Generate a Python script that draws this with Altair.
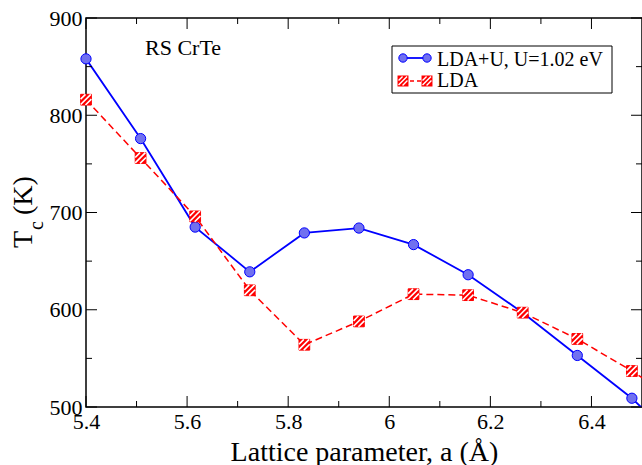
import altair as alt
import pandas as pd

# ---------------- data ----------------
lattice_a = [5.4, 5.508, 5.616, 5.724, 5.832, 5.94, 6.048, 6.156, 6.264, 6.372, 6.48, 6.588]
tc_ldau = [858, 776, 685, 639, 679, 684, 667, 636, 597, 553, 509, 455]
tc_lda = [816, 756, 696, 620, 564, 588, 616, 615, 597, 570, 537, 500]
series_names = ["LDA+U, U=1.02 eV", "LDA"]
x_major = [5.4, 5.6, 5.8, 6.0, 6.2, 6.4]
x_minor = [5.5, 5.7, 5.9, 6.1, 6.3]
y_major = [500, 600, 700, 800, 900]
y_minor = [550, 650, 750, 850]
x_title = "Lattice parameter, a (Å)"
y_title_main = "T"
y_title_sub = "c"
y_title_unit = "(K)"
panel_label = "RS CrTe"

# ---------------- layout / style ----------------
W, H = 556, 389
FONT = "Liberation Serif"
BLUE = "#0000ff"
BLUE_FILL = "#7070f0"
RED = "#ff0000"
HATCH = "M-1,-0.1L-0.1,-1M-1,0.9L0.9,-1M-0.1,1L1,-0.1"

df = pd.DataFrame({"a": lattice_a, "ldau": tc_ldau, "lda": tc_lda})

xs = alt.Scale(domain=[5.4, 6.5], nice=False, zero=False)
ys = alt.Scale(domain=[500, 900], nice=False, zero=False)

axis_common = dict(
    labelFont=FONT, labelFontSize=22, labelColor="black", labelFontWeight="normal",
    titleFont=FONT, titleFontSize=28, titleFontWeight="normal", titleColor="black",
    tickSize=0, domain=False, grid=False, labelPadding=4,
    labelFlush=False, labelOverlap=False, labelBound=False,
)

x_main = alt.X(
    "a:Q", scale=xs,
    axis=alt.Axis(values=x_major, format="~g", title=x_title,
                  titleY=53, titleBaseline="alphabetic", **axis_common),
)
x_noaxis = alt.X("a:Q", scale=xs, axis=None)

base = alt.Chart(df)

blue_line = base.mark_line(color=BLUE, strokeWidth=1.8, clip=True).encode(
    x=x_main,
    y=alt.Y("ldau:Q", scale=ys,
            axis=alt.Axis(values=y_major, title=None, **axis_common)),
)
blue_pts = base.mark_point(shape="circle", filled=True, size=105, fill=BLUE_FILL,
                           stroke=BLUE, strokeWidth=1, opacity=1).encode(
    x=x_noaxis, y=alt.Y("ldau:Q", scale=ys, axis=None))

red_line = base.mark_line(color=RED, strokeWidth=1.5, strokeDash=[7, 4], clip=True).encode(
    x=x_noaxis, y=alt.Y("lda:Q", scale=ys, axis=None))
red_pts = base.mark_point(shape="square", filled=True, size=115, fill=RED,
                          stroke=RED, strokeWidth=1, opacity=1).encode(
    x=x_noaxis, y=alt.Y("lda:Q", scale=ys, axis=None))
red_hatch = base.mark_point(shape=HATCH, filled=False, size=115, stroke="white",
                            strokeWidth=1.6, opacity=1).encode(
    x=x_noaxis, y=alt.Y("lda:Q", scale=ys, axis=None))


def xticks(vals, length, top):
    d = pd.DataFrame({"v": vals})
    y, y2 = (0, length) if top else (H, H - length)
    return alt.Chart(d).mark_rule(color="black", strokeWidth=1).encode(
        x=alt.X("v:Q", scale=xs, axis=None), y=alt.value(y), y2=alt.value(y2))


def yticks(vals, length, right):
    d = pd.DataFrame({"v": vals})
    x, x2 = (W, W - length) if right else (0, length)
    return alt.Chart(d).mark_rule(color="black", strokeWidth=1).encode(
        y=alt.Y("v:Q", scale=ys, axis=None), x=alt.value(x), x2=alt.value(x2))


ticks = [
    xticks(x_major, 11, False), xticks(x_minor, 6, False),
    xticks(x_major, 11, True), xticks(x_minor, 6, True),
    yticks(y_major, 11, False), yticks(y_minor, 6, False),
    yticks(y_major, 11, True), yticks(y_minor, 6, True),
]

one = pd.DataFrame({"k": [0]})


def text(s, x, y, size, angle=0):
    return alt.Chart(one).mark_text(
        text=s, font=FONT, fontSize=size, fontWeight="normal", align="left",
        baseline="alphabetic", angle=angle, color="black").encode(
        x=alt.value(x), y=alt.value(y))


# y-axis title with subscript
y_title = [
    text(y_title_main, -54, 230, 28, 270),
    text(y_title_sub, -43, 212, 20, 270),
    text(y_title_unit, -54, 197, 28, 270),
]

label = text(panel_label, 59, 37, 22)

# legend
leg_box = alt.Chart(one).mark_rect(fill="white", stroke="black", strokeWidth=1).encode(
    x=alt.value(306), x2=alt.value(526), y=alt.value(28), y2=alt.value(75))
leg = [leg_box]
leg.append(alt.Chart(one).mark_rule(color=BLUE, strokeWidth=1.8).encode(
    x=alt.value(317), x2=alt.value(341), y=alt.value(40)))
for px in (317, 341):
    leg.append(alt.Chart(one).mark_point(shape="circle", filled=True, size=70, fill=BLUE_FILL,
                                         stroke=BLUE, strokeWidth=1, opacity=1).encode(
        x=alt.value(px), y=alt.value(40)))
leg.append(alt.Chart(one).mark_rule(color=RED, strokeWidth=1.5, strokeDash=[4, 3]).encode(
    x=alt.value(317), x2=alt.value(341), y=alt.value(63)))
for px in (317, 341):
    leg.append(alt.Chart(one).mark_point(shape="square", filled=True, size=80, fill=RED,
                                         stroke=RED, opacity=1).encode(
        x=alt.value(px), y=alt.value(63)))
    leg.append(alt.Chart(one).mark_point(shape=HATCH, filled=False, size=80, stroke="white",
                                         strokeWidth=1.4, opacity=1).encode(
        x=alt.value(px), y=alt.value(63)))
leg.append(text(series_names[0], 351, 48, 20))
leg.append(text(series_names[1], 351, 69, 20))

chart = alt.layer(
    blue_line, blue_pts, red_line, red_pts, red_hatch,
    *ticks, *y_title, label, *leg,
).resolve_axis(
    x="independent", y="independent",
).properties(
    width=W, height=H,
    padding={"left": 86, "top": 18, "right": 0, "bottom": 58},
    autosize=alt.AutoSizeParams(type="none"),
    background="white",
).configure_view(
    stroke="black", strokeWidth=1.5,
).configure_axis(
    labelFont=FONT, titleFont=FONT,
).configure_text(
    font=FONT,
)

chart.save("out.html", embed_options={"renderer": "svg", "actions": False})
